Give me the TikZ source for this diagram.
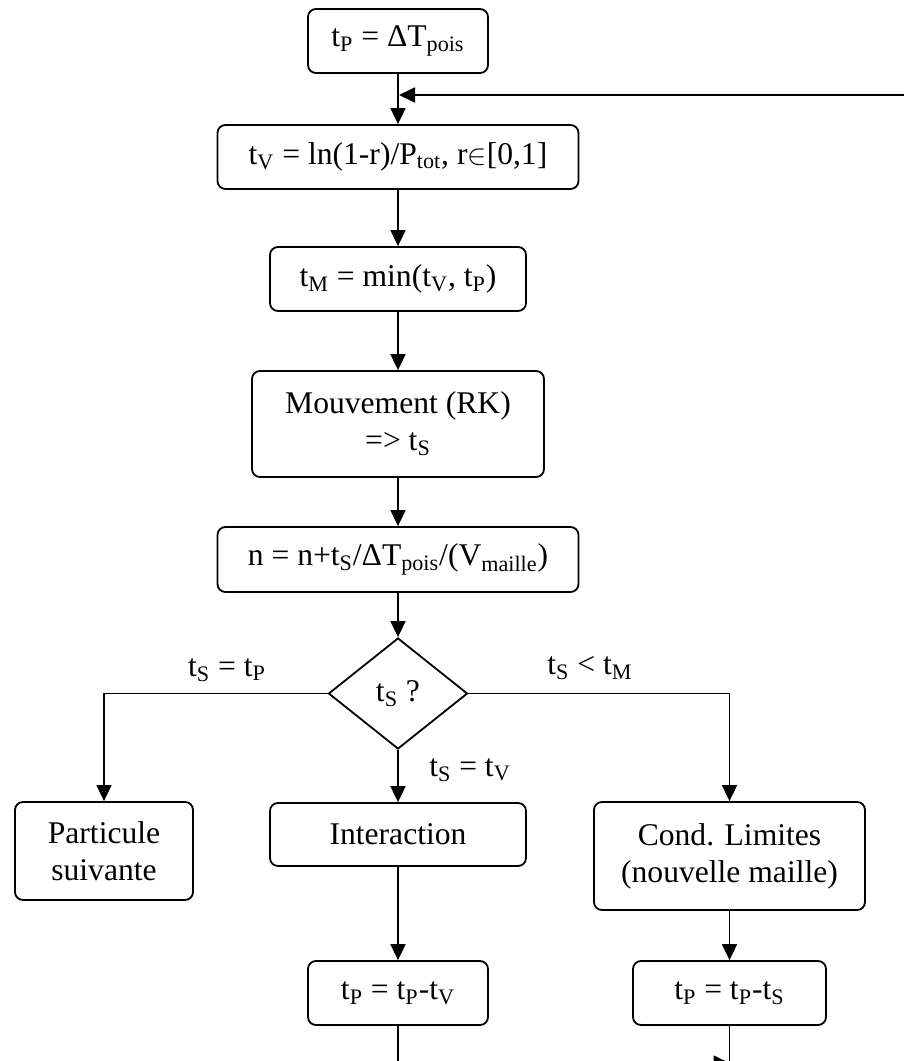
\documentclass[tikz,border=0pt]{standalone}
\usepackage{fontspec}
\setmainfont{Liberation Serif}
\usetikzlibrary{arrows.meta,shapes.geometric}

\begin{document}
\begin{tikzpicture}[x=0.5pt,y=-0.5pt,
    font=\fontsize{15.8}{18.5}\selectfont,
    box/.style={draw, rounded corners=4pt, line width=0.9pt, align=center, inner sep=0pt},
    decision/.style={draw, diamond, line width=0.9pt, inner sep=0pt, minimum width=69.5pt, minimum height=55.5pt},
    flow/.style={-{Triangle[length=8pt,width=7.5pt]}, line width=0.9pt},
    link/.style={line width=0.9pt}
  ]
  \useasboundingbox (0,0) rectangle (904,1061);

  \node[box, minimum width=90pt, minimum height=32pt] (tpinit) at (398,41) {t\textsubscript{P} = ΔT\textsubscript{pois}};
  \node[box, minimum width=180.5pt, minimum height=32pt] (tvirt) at (398,157) {t\textsubscript{V} = ln(1-r)/P\textsubscript{tot}, r$\in$[0,1]};
  \node[box, minimum width=128pt, minimum height=32pt] (tmin) at (398,279) {t\textsubscript{M} = min(t\textsubscript{V}, t\textsubscript{P})};
  \node[box, minimum width=146pt, minimum height=53pt] (mouv) at (398,424) {Mouvement (RK)\\=> t\textsubscript{S}};
  \node[box, minimum width=180.5pt, minimum height=32.5pt] (ncoll) at (398,559.5) {n = n+t\textsubscript{S}/ΔT\textsubscript{pois}/(V\textsubscript{maille})};
  \node[decision] (test) at (398,693.5) {t\textsubscript{S} ?};

  \node[box, minimum width=89pt, minimum height=49pt] (suiv) at (104,851) {Particule\\suivante};
  \node[box, minimum width=128pt, minimum height=31.5pt] (inter) at (398,834.5) {Interaction};
  \node[box, minimum width=135.5pt, minimum height=54pt] (cond) at (729.5,856) {Cond. Limites\\(nouvelle maille)};
  \node[box, minimum width=90pt, minimum height=32pt] (tpv) at (398,993) {t\textsubscript{P} = t\textsubscript{P}-t\textsubscript{V}};
  \node[box, minimum width=96.5pt, minimum height=32pt] (tps) at (729.5,993) {t\textsubscript{P} = t\textsubscript{P}-t\textsubscript{S}};

  % branch labels
  \node (lbp) at (227,670) {t\textsubscript{S} = t\textsubscript{P}};
  \node (lbm) at (590,668) {t\textsubscript{S} < t\textsubscript{M}};
  \node (lbv) at (470,770) {t\textsubscript{S} = t\textsubscript{V}};

  % loop ends (run past the page edge)
  \coordinate (fb) at (399,95);
  \coordinate (fbin) at (940,95);
  \coordinate (retour) at (398,1063);

  \draw[flow] (tpinit) -- (tvirt);
  \draw[flow] (fbin) -- (fb);
  \draw[flow] (tvirt) -- (tmin);
  \draw[flow] (tmin) -- (mouv);
  \draw[flow] (mouv) -- (ncoll);
  \draw[flow] (ncoll) -- (test);
  \draw[flow] (test.west) -| (suiv.north);
  \draw[flow] (test.south) -- (inter.north);
  \draw[flow] (test.east) -| (cond.north);
  \draw[flow] (inter) -- (tpv);
  \draw[flow] (cond) -- (tps);
  \draw[flow] (tpv.south) -- (retour) -- (tps.south |- retour);
  \draw[link] (tps.south) -- ++(0,60);
\end{tikzpicture}
\end{document}
